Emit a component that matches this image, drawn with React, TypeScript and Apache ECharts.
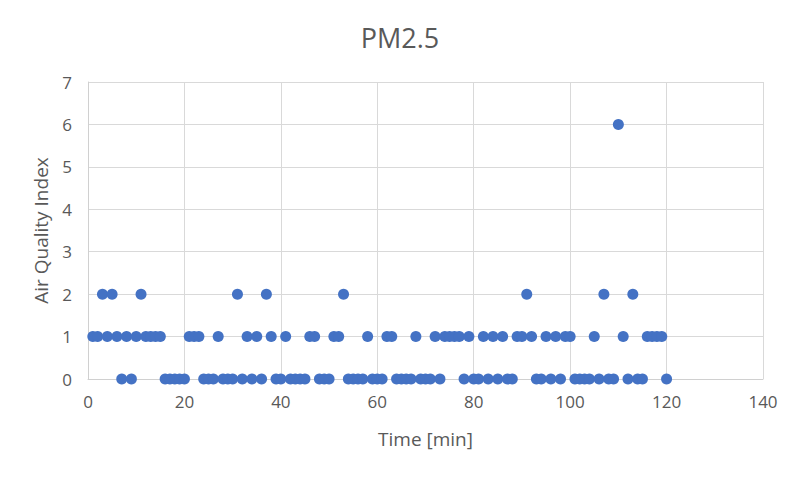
import React, { useEffect, useRef } from "react";
import * as echarts from "echarts";

const title = "PM2.5";
const xAxisName = "Time [min]";
const yAxisName = "Air Quality Index";

// one reading per minute, minutes 1..120
const minutes: number[] = Array.from({ length: 120 }, (_, i) => i + 1);
const aqiValues: number[] = [
  1, 1, 2, 1, 2, 1, 0, 1, 0, 1,
  2, 1, 1, 1, 1, 0, 0, 0, 0, 0,
  1, 1, 1, 0, 0, 0, 1, 0, 0, 0,
  2, 0, 1, 0, 1, 0, 2, 1, 0, 0,
  1, 0, 0, 0, 0, 1, 1, 0, 0, 0,
  1, 1, 2, 0, 0, 0, 0, 1, 0, 0,
  0, 1, 1, 0, 0, 0, 0, 1, 0, 0,
  0, 1, 0, 1, 1, 1, 1, 0, 1, 0,
  0, 1, 0, 1, 0, 1, 0, 0, 1, 1,
  2, 1, 0, 0, 1, 0, 1, 0, 1, 1,
  0, 0, 0, 0, 1, 0, 2, 0, 0, 6,
  1, 0, 2, 0, 0, 1, 1, 1, 1, 0,
];

const FONT = "'Open Sans', 'Liberation Sans', sans-serif";
const TEXT = "#595959";

export default function App() {
  const ref = useRef<HTMLDivElement>(null);
  useEffect(() => {
    if (!ref.current) return;
    const chart = echarts.init(ref.current, null, { renderer: "svg" });
    chart.setOption({
      animation: false,
      backgroundColor: "#ffffff",
      title: {
        text: title,
        left: "center",
        top: 19,
        textStyle: { fontFamily: FONT, fontSize: 27, fontWeight: "normal", color: TEXT },
      },
      grid: { left: 88, top: 82, width: 675, height: 297 },
      xAxis: {
        type: "value",
        min: 0,
        max: 140,
        interval: 20,
        name: xAxisName,
        nameLocation: "middle",
        nameGap: 50,
        nameTextStyle: { fontFamily: FONT, fontSize: 19, color: TEXT },
        axisLine: { show: true, lineStyle: { color: "#d0d0d0" } },
        axisTick: { show: false },
        axisLabel: { fontFamily: FONT, fontSize: 17, color: TEXT, margin: 14 },
        splitLine: { show: true, lineStyle: { color: "#d9d9d9" } },
      },
      yAxis: {
        type: "value",
        min: 0,
        max: 7,
        interval: 1,
        name: yAxisName,
        nameLocation: "middle",
        nameGap: 38,
        nameTextStyle: { fontFamily: FONT, fontSize: 19, color: TEXT },
        axisLine: { show: true, lineStyle: { color: "#d0d0d0" } },
        axisTick: { show: false },
        axisLabel: { fontFamily: FONT, fontSize: 17, color: TEXT, margin: 16 },
        splitLine: { show: true, lineStyle: { color: "#d9d9d9" } },
      },
      series: [
        {
          type: "scatter",
          data: minutes.map((m, i) => [m, aqiValues[i]]),
          symbol: "circle",
          symbolSize: 11,
          itemStyle: { color: "#4472C4", opacity: 1 },
        },
      ],
    });
    return () => chart.dispose();
  }, []);
  return <div ref={ref} style={{ width: 800, height: 477, margin: -8 }} />;
}
